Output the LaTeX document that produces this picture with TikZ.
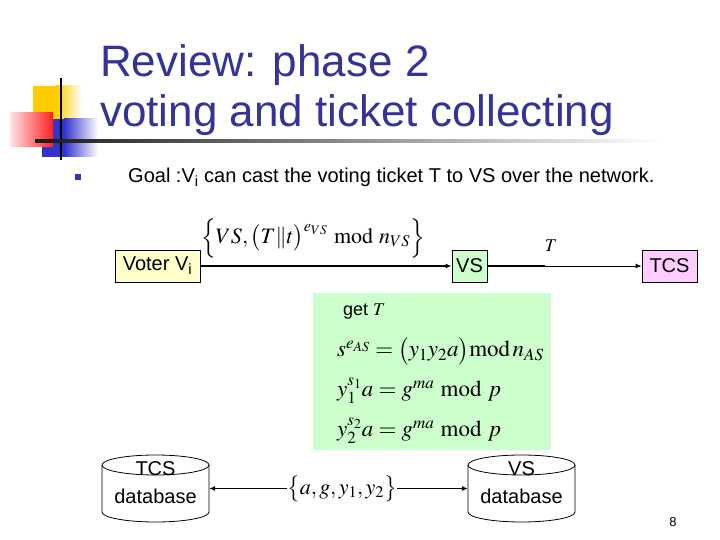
\documentclass[tikz,border=0pt]{standalone}
\usepackage{mathptmx}
\usepackage[no-math]{fontspec}
\setmainfont{Liberation Sans}
\usetikzlibrary{arrows.meta}
\definecolor{titleblue}{HTML}{333399}
\definecolor{sqyellow}{HTML}{FFCC00}
\definecolor{sqblue}{HTML}{3333CC}
\definecolor{sqred}{HTML}{FF2020}
\definecolor{voterfill}{HTML}{FFFFCC}
\definecolor{vsfill}{HTML}{CCFFCC}
\definecolor{tcsfill}{HTML}{FFCCFF}
\definecolor{greenbg}{HTML}{CCFFCC}
\tikzset{
  boxnode/.style={draw, line width=0.8pt, inner sep=0pt, minimum height=32pt,
    font=\fontsize{20}{24}\selectfont},
  arr/.style={line width=1.4pt, -{Latex[length=6pt,width=5pt]}},
  thinarr/.style={line width=0.9pt, -{Latex[length=6pt,width=5pt]}},
  dbtext/.style={align=center, inner sep=0pt, font=\fontsize{20}{28}\selectfont},
  mathlab/.style={inner sep=0pt, font=\fontsize{22}{26}\selectfont},
  cyl/.style={line width=0.8pt}
}
\begin{document}
\begin{tikzpicture}[x=1pt,y=-1pt]
\useasboundingbox (0,0) rectangle (720,540);
% decorations
\fill[sqyellow] (33,86) rectangle (56,120);
\shade[left color=sqyellow, right color=white] (56,86) rectangle (82,120);
\fill[sqblue] (42,119) rectangle (64,157);
\shade[left color=sqblue, right color=white] (64,119) rectangle (98,157);
\shade[left color=sqred!12, right color=sqred] (10,113) rectangle (53,147);
\draw[line width=2.4pt] (61,78) -- (61,160);
\shade[left color=black!90, right color=white] (35,140) rectangle (660,142.5);
% title
\node[anchor=base west, inner sep=0pt, text=titleblue, font=\fontsize{44}{50}\selectfont] (t1) at (100,77) {Review: phase 2};
\node[anchor=base west, inner sep=0pt, text=titleblue, font=\fontsize{44}{50}\selectfont] (t2) at (100,127) {voting and ticket collecting};
% bullet
\fill[sqblue] (75,174) rectangle (81,180);
\node[anchor=base west, inner sep=0pt, font=\fontsize{20}{24}\selectfont] (goal) at (128,183) {Goal :V\textsubscript{i} can cast the voting ticket T to VS over the network.};
% top row
\node[boxnode, fill=voterfill, minimum width=85pt] (voter) at (157.5,266) {Voter V\textsubscript{i}};
\node[boxnode, fill=vsfill, minimum width=35pt] (vs) at (469.5,266) {VS};
\node[boxnode, fill=tcsfill, minimum width=55pt] (tcs) at (669.5,266) {TCS};
\draw[arr] (voter.east) -- (vs.west);
\coordinate (mid) at (545,266);
\draw[line width=1.4pt] (vs.east) -- (mid);
\draw[thinarr] (vs.east) -- (tcs.west);
\node[mathlab] (lab1) at (313,238) {$\Bigl\{VS,\bigl(T\|t\bigr)^{e_{VS}}\bmod n_{VS}\Bigr\}$};
\node[mathlab, font=\fontsize{18}{22}\selectfont] (labT) at (551,246) {$T$};
% green box
\node[fill=greenbg, minimum width=238pt, minimum height=157pt, inner sep=0pt] (calc) at (432,371.5) {};
\node[anchor=west, inner sep=0pt, font=\fontsize{18}{22}\selectfont] (get) at (343,312) {get $T$};
\node[anchor=west, mathlab, font=\fontsize{23}{27}\selectfont] (f1) at (337,351) {$s^{e_{AS}}=\bigl(y_1y_2a\bigr)\mathrm{mod}\,n_{AS}$};
\node[anchor=west, mathlab, font=\fontsize{23}{27}\selectfont] (f2) at (337,391) {$y_1^{s_1}a=g^{ma}\bmod p$};
\node[anchor=west, mathlab, font=\fontsize{23}{27}\selectfont] (f3) at (337,431) {$y_2^{s_2}a=g^{ma}\bmod p$};
% databases
\draw[cyl] (102,465) -- (102,512) arc[start angle=180, end angle=0, x radius=53.5, y radius=10] -- (209,465);
\draw[cyl] (155.5,465) ellipse[x radius=53.5, y radius=10];
\draw[cyl] (468,465) -- (468,512) arc[start angle=180, end angle=0, x radius=53.5, y radius=10] -- (575,465);
\draw[cyl] (521.5,465) ellipse[x radius=53.5, y radius=10];
\node[minimum width=107pt, minimum height=67pt, inner sep=0pt] (tcsdb) at (155.5,488.5) {};
\node[minimum width=107pt, minimum height=67pt, inner sep=0pt] (vsdb) at (521.5,488.5) {};
\node[dbtext] (tcsdbt) at (155.5,483) {TCS\\database};
\node[dbtext] (vsdbt) at (521.5,483) {VS\\database};
\node[mathlab] (lab2) at (342,488.5) {$\bigl\{a,g,y_1,y_2\bigr\}$};
\draw[thinarr, line width=1.1pt] (lab2.west) -- (tcsdb.east);
\draw[thinarr, line width=1.1pt] (lab2.east) -- (vsdb.west);
% page number
\node[inner sep=0pt, font=\fontsize{13}{15}\selectfont] (pg) at (673,522) {8};
\end{tikzpicture}
\end{document}
